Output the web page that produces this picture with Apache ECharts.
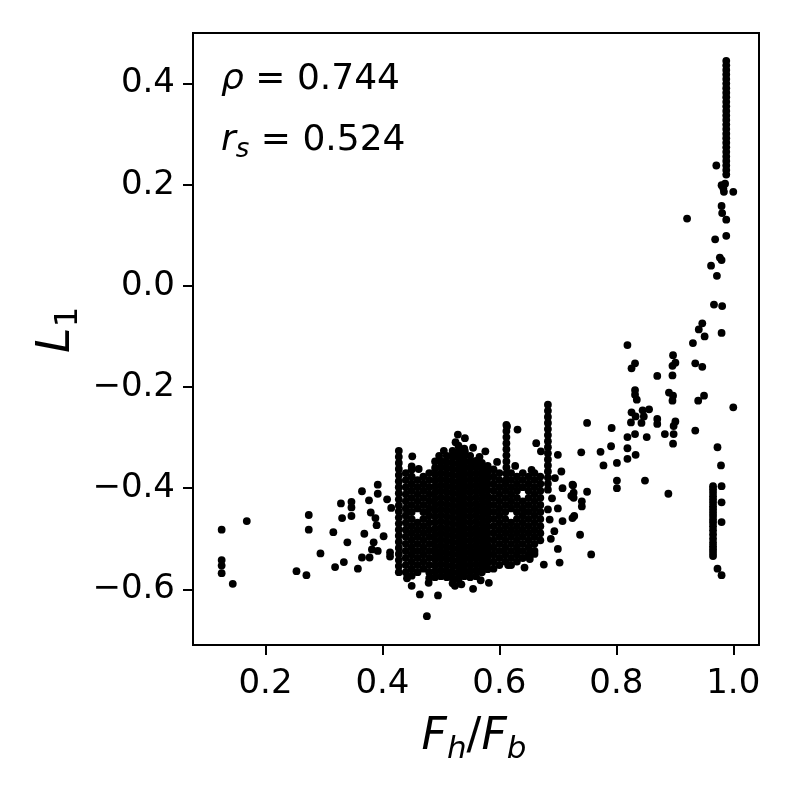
<!DOCTYPE html>
<html>
<head>
<meta charset="utf-8">
<script src="https://cdn.jsdelivr.net/npm/echarts@6/dist/echarts.min.js"></script>
<style>html,body{margin:0;padding:0;background:#fff}#c{width:793px;height:793px}</style>
</head>
<body>
<div id="c"></div>
<script>
// ---- data ----
const xTicks = [0.2, 0.4, 0.6, 0.8, 1.0];
const yTicks = [-0.6, -0.4, -0.2, 0.0, 0.2, 0.4];

const leftPoints = [
[0.125,-0.482],[0.168,-0.465],[0.125,-0.542],[0.125,-0.553],[0.125,-0.568],[0.144,-0.589],
[0.274,-0.453],[0.274,-0.482],[0.253,-0.564],[0.270,-0.572],[0.294,-0.529],[0.316,-0.487],
[0.329,-0.430],[0.347,-0.427],[0.347,-0.438],[0.347,-0.455],[0.331,-0.459],[0.340,-0.507],
[0.334,-0.546],[0.319,-0.556],[0.365,-0.406],[0.377,-0.424],[0.392,-0.393],[0.392,-0.411],
[0.408,-0.422],[0.380,-0.448],[0.388,-0.459],[0.390,-0.473],[0.369,-0.490],[0.402,-0.495],
[0.385,-0.507],[0.382,-0.521],[0.392,-0.524],[0.365,-0.537],[0.378,-0.537],[0.358,-0.559],
[0.415,-0.439],[0.413,-0.527],[0.413,-0.535]
];

const clusterEdge = [
[0.613,-0.278],[0.631,-0.284],[0.529,-0.294],[0.541,-0.301],[0.525,-0.309],[0.555,-0.320],
[0.576,-0.327],[0.541,-0.327],[0.451,-0.337],[0.450,-0.357],[0.490,-0.347],[0.497,-0.336],
[0.521,-0.334],[0.663,-0.311],[0.671,-0.327],[0.700,-0.334],[0.706,-0.367],[0.725,-0.393],
[0.727,-0.419],[0.725,-0.459],[0.738,-0.492],[0.694,-0.485],[0.708,-0.465],[0.686,-0.462],
[0.703,-0.547],[0.676,-0.551],[0.643,-0.557],[0.582,-0.587],[0.555,-0.599],[0.524,-0.593],
[0.450,-0.593],[0.464,-0.610],[0.495,-0.612],[0.476,-0.653],[0.479,-0.587],[0.510,-0.574],
[0.695,-0.380],[0.690,-0.420],[0.700,-0.440],[0.688,-0.500],[0.700,-0.520],[0.660,-0.530],
[0.462,-0.362],[0.505,-0.326],[0.566,-0.338],[0.596,-0.348],[0.627,-0.356],[0.655,-0.364],
[0.442,-0.578],[0.535,-0.590],[0.568,-0.582],[0.615,-0.552],[0.652,-0.540]
];

const coreColumns = [
[0.44, [-0.370,-0.384,-0.398,-0.412,-0.426,-0.440,-0.454,-0.468,-0.482,-0.496,-0.510,-0.524,-0.538,-0.552,-0.566]],
[0.45, [-0.363,-0.377,-0.391,-0.405,-0.419,-0.433,-0.447,-0.461,-0.475,-0.489,-0.503,-0.517,-0.531,-0.545,-0.559,-0.573]],
[0.46, [-0.384,-0.398,-0.412,-0.426,-0.440,-0.468,-0.482,-0.496,-0.510,-0.524,-0.538,-0.552,-0.566]],
[0.47, [-0.377,-0.391,-0.405,-0.419,-0.433,-0.447,-0.461,-0.475,-0.489,-0.503,-0.517,-0.531,-0.545,-0.559]],
[0.48, [-0.370,-0.384,-0.398,-0.412,-0.426,-0.440,-0.454,-0.468,-0.482,-0.496,-0.510,-0.524,-0.538,-0.552,-0.566,-0.578]],
[0.49, [-0.360,-0.372,-0.384,-0.396,-0.408,-0.420,-0.432,-0.444,-0.456,-0.468,-0.480,-0.492,-0.504,-0.516,-0.528,-0.540,-0.552,-0.564,-0.576]],
[0.50, [-0.346,-0.358,-0.370,-0.382,-0.394,-0.406,-0.418,-0.430,-0.442,-0.454,-0.466,-0.478,-0.490,-0.502,-0.514,-0.526,-0.538,-0.550,-0.562,-0.574]],
[0.51, [-0.336,-0.348,-0.360,-0.372,-0.384,-0.396,-0.408,-0.420,-0.432,-0.444,-0.456,-0.468,-0.480,-0.492,-0.504,-0.516,-0.528,-0.540,-0.552,-0.564,-0.576]],
[0.52, [-0.326,-0.338,-0.350,-0.362,-0.374,-0.386,-0.398,-0.410,-0.422,-0.434,-0.446,-0.458,-0.470,-0.482,-0.494,-0.506,-0.518,-0.530,-0.542,-0.554,-0.566,-0.578,-0.588]],
[0.53, [-0.316,-0.328,-0.340,-0.352,-0.364,-0.376,-0.388,-0.400,-0.412,-0.424,-0.436,-0.448,-0.460,-0.472,-0.484,-0.496,-0.508,-0.520,-0.532,-0.544,-0.556,-0.568,-0.580]],
[0.54, [-0.322,-0.334,-0.346,-0.358,-0.370,-0.382,-0.394,-0.406,-0.418,-0.430,-0.442,-0.454,-0.466,-0.478,-0.490,-0.502,-0.514,-0.526,-0.538,-0.550,-0.562,-0.574]],
[0.55, [-0.336,-0.348,-0.360,-0.372,-0.384,-0.396,-0.408,-0.420,-0.432,-0.444,-0.456,-0.468,-0.480,-0.492,-0.504,-0.516,-0.528,-0.540,-0.552,-0.564,-0.576]],
[0.56, [-0.346,-0.358,-0.370,-0.382,-0.394,-0.406,-0.418,-0.430,-0.442,-0.454,-0.466,-0.478,-0.490,-0.502,-0.514,-0.526,-0.538,-0.550,-0.562,-0.574]],
[0.57, [-0.350,-0.362,-0.374,-0.386,-0.398,-0.410,-0.422,-0.434,-0.446,-0.458,-0.470,-0.482,-0.494,-0.506,-0.518,-0.530,-0.542,-0.554,-0.566]],
[0.58, [-0.356,-0.368,-0.380,-0.392,-0.404,-0.416,-0.428,-0.440,-0.452,-0.464,-0.476,-0.488,-0.500,-0.512,-0.524,-0.536,-0.548,-0.560]],
[0.59, [-0.363,-0.377,-0.391,-0.405,-0.419,-0.433,-0.447,-0.461,-0.475,-0.489,-0.503,-0.517,-0.531,-0.545,-0.559]],
[0.60, [-0.370,-0.384,-0.398,-0.412,-0.426,-0.440,-0.454,-0.468,-0.482,-0.496,-0.510,-0.524,-0.538,-0.552]],
[0.61, [-0.391,-0.405,-0.419,-0.433,-0.447,-0.461,-0.475,-0.489,-0.503,-0.517,-0.531,-0.545]],
[0.62, [-0.370,-0.384,-0.398,-0.412,-0.426,-0.440,-0.468,-0.482,-0.496,-0.510,-0.524,-0.538,-0.552]],
[0.63, [-0.377,-0.391,-0.405,-0.419,-0.433,-0.447,-0.461,-0.475,-0.489,-0.503,-0.517,-0.531,-0.545]],
[0.64, [-0.370,-0.384,-0.398,-0.426,-0.440,-0.454,-0.468,-0.482,-0.496,-0.510,-0.524,-0.538]],
[0.65, [-0.377,-0.391,-0.405,-0.419,-0.433,-0.447,-0.461,-0.475,-0.489,-0.503,-0.517,-0.531]],
[0.66, [-0.370,-0.384,-0.398,-0.412,-0.426,-0.440,-0.454,-0.468,-0.482,-0.496,-0.510,-0.524]],
[0.67, [-0.377,-0.391,-0.405,-0.419,-0.433,-0.447,-0.461,-0.475,-0.489,-0.503]]
];

const stripe043X = 0.428;
const stripe043Y = [-0.326,-0.338,-0.350,-0.362,-0.374,-0.386,-0.398,-0.410,-0.422,-0.434,-0.446,-0.458,-0.470,-0.482,-0.494,-0.506,-0.518,-0.530,-0.542,-0.554,-0.566];
const stripe061X = 0.612;
const stripe061Y = [-0.275,-0.287,-0.299,-0.311,-0.323,-0.335,-0.347,-0.359,-0.371,-0.383];
const stripe068X = 0.683;
const stripe068Y = [-0.235,-0.247,-0.259,-0.271,-0.283,-0.295,-0.307,-0.319,-0.331,-0.343,-0.355,-0.367,-0.379,-0.391,-0.403,-0.442];

const risePoints = [
[0.947,-0.074],[0.941,-0.086],[0.980,-0.093],[0.951,-0.100],[0.931,-0.113],[0.819,-0.117],
[0.897,-0.137],[0.901,-0.152],[0.896,-0.158],[0.832,-0.153],[0.826,-0.163],[0.935,-0.153],
[0.947,-0.160],[0.870,-0.178],[0.896,-0.177],[0.832,-0.206],[0.832,-0.215],[0.835,-0.225],
[0.890,-0.211],[0.897,-0.217],[0.896,-0.227],[0.950,-0.217],[0.940,-0.227],[1.000,-0.240],
[0.856,-0.244],[0.845,-0.246],[0.826,-0.250],[0.833,-0.258],[0.847,-0.258],[0.870,-0.263],
[0.870,-0.273],[0.825,-0.270],[0.843,-0.271],[0.901,-0.268],[0.898,-0.277],[0.750,-0.271],
[0.792,-0.281],[0.883,-0.293],[0.898,-0.293],[0.832,-0.293],[0.819,-0.299],[0.852,-0.299],
[0.935,-0.286],[0.897,-0.312],[0.973,-0.319],[0.791,-0.317],[0.819,-0.321],[0.833,-0.334],
[0.819,-0.342],[0.773,-0.328],[0.740,-0.329],[0.778,-0.355],[0.801,-0.350],[0.979,-0.355],
[0.801,-0.385],[0.801,-0.400],[0.849,-0.385],[0.889,-0.411],[0.750,-0.407],[0.726,-0.394],
[0.727,-0.409],[0.741,-0.426],[0.741,-0.436],[0.708,-0.400],[0.723,-0.415],[0.728,-0.455],
[0.757,-0.531],[0.980,-0.396],[0.980,-0.428],[0.980,-0.467],[0.973,-0.559],[0.980,-0.572]
];

const topPoints = [
[0.971,0.238],[0.980,0.199],[0.986,0.202],[1.000,0.186],[0.984,0.186],[0.983,0.193],
[0.921,0.133],[0.980,0.158],[0.981,0.144],[0.988,0.131],[0.988,0.099],[0.969,0.092],
[0.977,0.056],[0.980,0.051],[0.962,0.040],[0.972,0.020],[0.967,-0.037],[0.981,-0.040]
];

const topColumnX = 0.988;
const topColumnY = [0.445,0.436,0.427,0.418,0.409,0.400,0.391,0.382,0.373,0.364,0.355,0.346,0.337,0.328,0.319,0.310,0.301,0.292,0.283,0.274,0.265,0.256,0.247,0.238,0.229,0.220];
const lowColumnX = 0.9654;
const lowColumnY = [-0.396,-0.402,-0.409,-0.416,-0.4225,-0.429,-0.4357,-0.442,-0.4487,-0.455,-0.462,-0.468,-0.475,-0.483,-0.4915,-0.500,-0.508,-0.5146,-0.521,-0.5276,-0.534];

// ---- build ----
const points = [].concat(
  leftPoints, clusterEdge, risePoints, topPoints,
  coreColumns.flatMap(([x, ys]) => ys.map(y => [x, y])),
  stripe043Y.map(y => [stripe043X, y]),
  stripe061Y.map(y => [stripe061X, y]),
  stripe068Y.map(y => [stripe068X, y]),
  topColumnY.map(y => [topColumnX, y]),
  lowColumnY.map(y => [lowColumnX, y])
);

const FONT = "'DejaVu Sans', sans-serif";
const fmt = v => (v < -1e-9 ? '\u2212' : '') + Math.abs(v).toFixed(1);

const chart = echarts.init(document.getElementById('c'), null, {renderer: 'canvas'});
chart.setOption({
  animation: false,
  backgroundColor: '#fff',
  grid: {left: 193, top: 33, right: 34, bottom: 148, show: true, borderColor: '#000', borderWidth: 2},
  xAxis: {
    type: 'value', min: 0.076, max: 1.044,
    axisLine: {show: true, onZero: false, lineStyle: {color: '#000', width: 2}},
    axisTick: {show: true, inside: false, length: 10, lineStyle: {color: '#000', width: 2}, customValues: xTicks},
    axisLabel: {customValues: xTicks, formatter: fmt, fontSize: 34, color: '#000', fontFamily: FONT, margin: 22},
    splitLine: {show: false}
  },
  yAxis: {
    type: 'value', min: -0.71, max: 0.50,
    axisLine: {show: true, onZero: false, lineStyle: {color: '#000', width: 2}},
    axisTick: {show: true, inside: false, length: 10, lineStyle: {color: '#000', width: 2}, customValues: yTicks},
    axisLabel: {customValues: yTicks, formatter: fmt, fontSize: 34, color: '#000', fontFamily: FONT, margin: 18},
    splitLine: {show: false}
  },
  series: [{
    type: 'scatter', data: points, symbol: 'circle', symbolSize: 7.8,
    itemStyle: {color: '#000', opacity: 1}, silent: true
  }],
  graphic: [
    {type: 'text', x: 221, y: 80, silent: true, style: {
      text: '{i|ρ}{n| = 0.744}', verticalAlign: 'middle', fill: '#000',
      rich: {i: {fontSize: 36, fontStyle: 'italic', fontFamily: FONT, fill: '#000', lineHeight: 44},
             n: {fontSize: 36, fontFamily: FONT, fill: '#000', lineHeight: 44}}
    }},
    {type: 'text', x: 221, y: 141, silent: true, style: {
      text: '{i|r}{s|s}{n| = 0.524}', verticalAlign: 'middle', fill: '#000',
      rich: {i: {fontSize: 36, fontStyle: 'italic', fontFamily: FONT, fill: '#000', lineHeight: 44},
             s: {fontSize: 26, fontStyle: 'italic', fontFamily: FONT, fill: '#000', lineHeight: 30, verticalAlign: 'bottom'},
             n: {fontSize: 36, fontFamily: FONT, fill: '#000', lineHeight: 44}}
    }},
    {type: 'text', x: 474, y: 738, silent: true, style: {
      text: '{i|F}{s|h}{n|/}{i|F}{s|b}', align: 'center', verticalAlign: 'middle', fill: '#000',
      rich: {i: {fontSize: 44, fontStyle: 'italic', fontFamily: FONT, fill: '#000', lineHeight: 54},
             s: {fontSize: 31, fontStyle: 'italic', fontFamily: FONT, fill: '#000', lineHeight: 34, verticalAlign: 'bottom'},
             n: {fontSize: 44, fontFamily: FONT, fill: '#000', lineHeight: 54}}
    }},
    {type: 'text', x: 57, y: 330, rotation: Math.PI / 2, silent: true, style: {
      text: '{i|L}{s|1}', align: 'center', verticalAlign: 'middle', fill: '#000',
      rich: {i: {fontSize: 46, fontStyle: 'italic', fontFamily: FONT, fill: '#000', lineHeight: 56},
             s: {fontSize: 32, fontFamily: FONT, fill: '#000', lineHeight: 34, verticalAlign: 'bottom'}}
    }}
  ]
});
</script>
</body>
</html>
